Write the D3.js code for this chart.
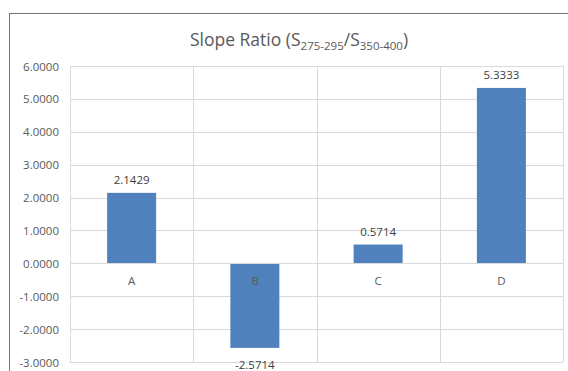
<!DOCTYPE html>
<html><head><meta charset="utf-8">
<script src="https://cdn.jsdelivr.net/npm/d3@7"></script>
<style>body{margin:0;background:#fff;}svg{display:block;}text{font-family:"Open Sans","Liberation Sans",sans-serif;}</style>
</head><body>
<script>
const categories = ["A","B","C","D"];
const values = [2.1429, -2.5714, 0.5714, 5.3333];
const yTicks = [6,5,4,3,2,1,0,-1,-2,-3];

(function(){
const W = 568, H = 371;
const fmt = d3.formatLocale({decimal:".", thousands:",", grouping:[3], currency:["",""], minus:"-"}).format(".4f");
const svg = d3.select("body").append("svg").attr("width", W).attr("height", H);
svg.append("rect").attr("x",0).attr("y",0).attr("width",W).attr("height",H).attr("fill","#fff");
// chart border (extends beyond view on right/bottom)
svg.append("rect").attr("x",9.5).attr("y",13.5).attr("width",700).attr("height",500)
  .attr("fill","none").attr("stroke","#767676").attr("stroke-width",1);

const pl = 70, pr = 563, pt = 66, pb = 362;
const y = d3.scaleLinear().domain([-3,6]).range([pb, pt]);
const x = d3.scaleBand().domain(categories).range([pl, pr]).paddingInner(0).paddingOuter(0);

const g = svg.append("g");
g.selectAll("line.hg").data(yTicks).join("line")
  .attr("x1", pl).attr("x2", pr)
  .attr("y1", d => Math.round(y(d))+0.5).attr("y2", d => Math.round(y(d))+0.5)
  .attr("stroke", "#D9D9D9").attr("stroke-width", 1);
const vx = categories.map(c => x(c)).concat([pr]);
g.selectAll("line.vg").data(vx).join("line")
  .attr("x1", d => Math.round(d)+0.5).attr("x2", d => Math.round(d)+0.5)
  .attr("y1", pt).attr("y2", pb)
  .attr("stroke", "#D9D9D9").attr("stroke-width", 1);

const yAxis = d3.axisLeft(y).tickValues(yTicks).tickSize(0).tickPadding(0).tickFormat(fmt);
const ya = svg.append("g").attr("transform", `translate(59,0)`).call(yAxis);
ya.select(".domain").remove();
ya.selectAll("text").attr("fill","#595959").attr("font-size", 11.5).attr("dy","0.35em");

const bw = 49;
g.selectAll("rect.bar").data(values).join("rect")
  .attr("x", (d,i) => x(categories[i]) + x.bandwidth()/2 - bw/2)
  .attr("width", bw)
  .attr("y", d => y(Math.max(0,d)))
  .attr("height", d => Math.abs(y(d) - y(0)))
  .attr("fill", "#4F81BD");

g.append("line").attr("x1", pl).attr("x2", pr)
  .attr("y1", Math.round(y(0))+0.5).attr("y2", Math.round(y(0))+0.5)
  .attr("stroke","#D9D9D9").attr("stroke-width",1);

const xAxis = d3.axisBottom(x).tickSize(0).tickPadding(0);
const xa = svg.append("g").attr("transform", `translate(0,${y(0)})`).call(xAxis);
xa.select(".domain").remove();
xa.selectAll("text").attr("fill","#595959").attr("font-size", 11.5).attr("dy","1.85em").attr("y",0);

g.selectAll("text.vl").data(values).join("text")
  .attr("x", (d,i) => x(categories[i]) + x.bandwidth()/2)
  .attr("y", d => d >= 0 ? y(d) - 9 : y(d) + 21)
  .attr("text-anchor","middle").attr("fill","#404040").attr("font-size", 11.5)
  .text(d => fmt(d));

const t = svg.append("text").attr("x", 299).attr("y", 46).attr("text-anchor","middle")
  .attr("fill","#595959").attr("font-size", 17.5);
t.append("tspan").text("Slope Ratio (S");
t.append("tspan").attr("font-size", 11.5).attr("dy", 4).text("275-295");
t.append("tspan").attr("dy", -4).text("/S");
t.append("tspan").attr("font-size", 11.5).attr("dy", 4).text("350-400");
t.append("tspan").attr("dy", -4).text(")");
})();
</script>
</body></html>
